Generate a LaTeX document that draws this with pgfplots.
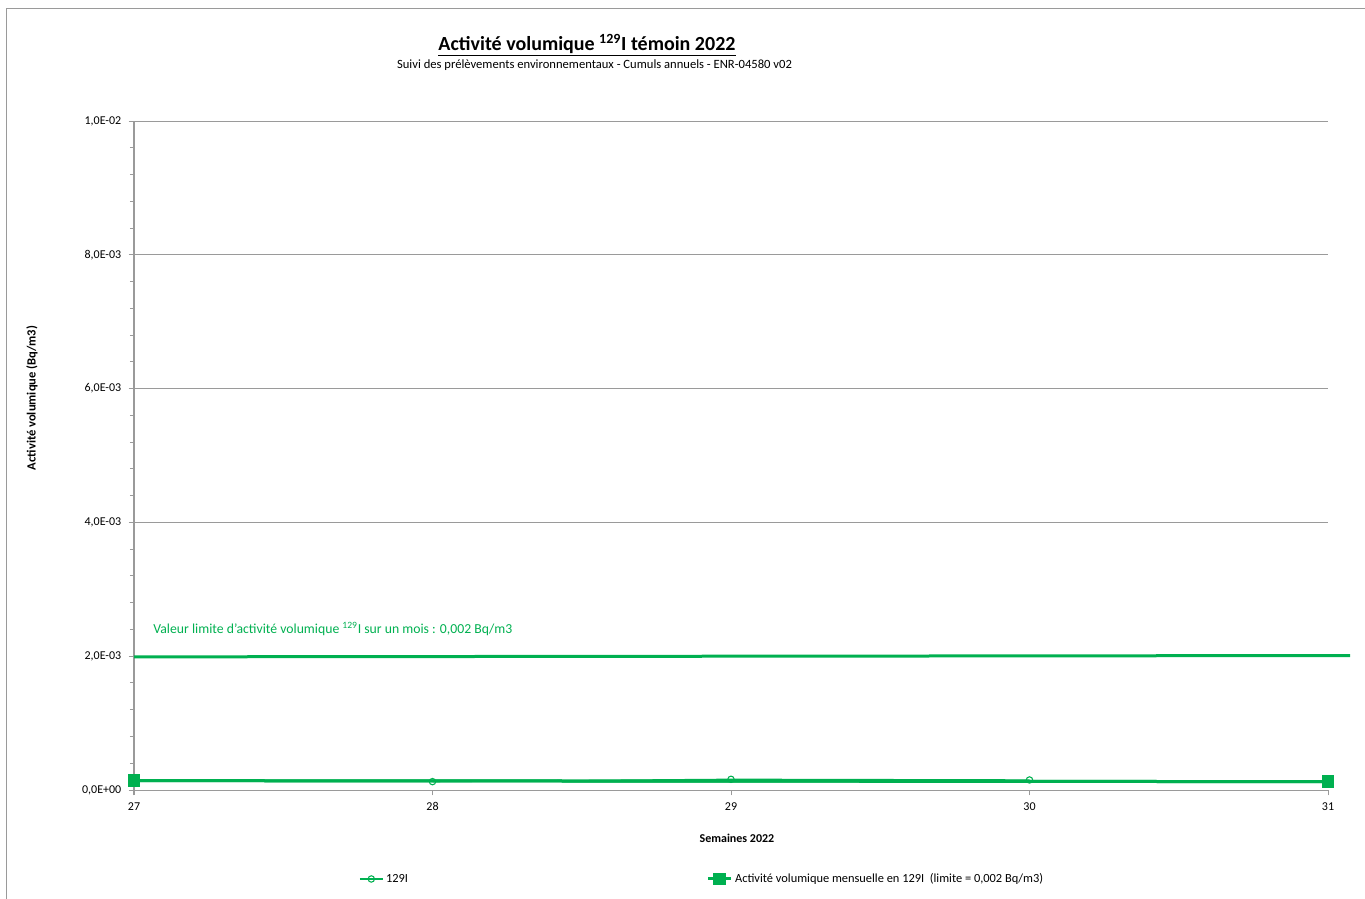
\documentclass[border=0pt]{standalone}
\usepackage{pgfplots}
\pgfplotsset{compat=1.18}
\usepackage{fontspec}
\setmainfont{Carlito}
\definecolor{xlgreen}{HTML}{00B050}
\definecolor{axgray}{HTML}{9A9A9A}
\begin{document}
\begin{tikzpicture}[x=0.75pt,y=-0.75pt]
\useasboundingbox (0,0) rectangle (1365,899);
\draw[color=axgray, line width=0.75pt] (6,9) rectangle (1385,920);
\node[font=\fontsize{15}{18}\selectfont\bfseries] at (587,45) {\underline{Activité volumique \textsuperscript{129}I témoin 2022}};
\node[font=\fontsize{9.45}{11}\selectfont] at (594.5,65) {Suivi des prélèvements environnementaux - Cumuls annuels - ENR-04580 v02};
\begin{axis}[
  at={(100.5pt,-592.5pt)}, anchor=south west,
  scale only axis, width=895.5pt, height=501.75pt,
  xmin=27, xmax=31, ymin=0, ymax=0.01,
  clip=false,
  scaled y ticks=false,
  axis lines*=left,
  axis line style={draw=axgray, line width=0.75pt},
  tick style={draw=axgray, line width=0.75pt},
  tick align=outside,
  major tick length=4pt, minor tick length=3pt,
  xtick={27,28,29,30,31},
  xticklabels={27,28,29,30,31},
  ytick={0,0.002,0.004,0.006,0.008,0.01},
  yticklabels={{0,0E+00},{2,0E-03},{4,0E-03},{6,0E-03},{8,0E-03},{1,0E-02}},
  minor y tick num=4,
  ymajorgrids,
  major grid style={draw=axgray, line width=0.75pt},
  /pgf/number format/assume math mode=true,
  ticklabel style={font=\fontsize{9}{11}\selectfont},
  xticklabel style={yshift=-2pt},
  yticklabel style={xshift=-2pt},
  xlabel={Semaines 2022},
  xlabel style={font=\fontsize{9}{11}\selectfont\bfseries, at={(rel axis cs:0.505,0)}, anchor=center, yshift=-36pt},
  ylabel={Activité volumique (Bq/m3)},
  ylabel style={font=\fontsize{9.4}{11}\selectfont\bfseries, at={(rel axis cs:-0.0854,0.586)}, anchor=center},
  legend style={at={(rel axis cs:0.1851,-0.133)}, anchor=west, draw=none, fill=none,
    font=\fontsize{9.3}{11}\selectfont, legend columns=2,
    /tikz/every even column/.append style={column sep=222pt}},
  legend cell align=left,
]
\addplot[xlgreen, line width=2.25pt, forget plot] coordinates {(27,0.00199) (31.074,0.00201)};
\addplot[xlgreen, line width=2.25pt, forget plot] coordinates {(27,0.00014) (31,0.000125)};
\addplot[xlgreen, line width=1pt, mark=o, mark size=2.4pt, mark options={line width=0.8pt, fill=white, solid}] coordinates {(28,0.000125) (29,0.00016) (30,0.00015)};
\addlegendentry{129I}
\addplot[xlgreen, line width=2.25pt, mark=square*, mark size=3.5pt, mark options={solid}] coordinates {(27,0.00014) (31,0.000125)};
\addlegendentry{Activité volumique mensuelle en 129I\ \ (limite = 0,002 Bq/m3)}
\node[anchor=west, text=xlgreen, font=\fontsize{10.3}{12}\selectfont, inner sep=0pt] at (axis cs:27.064,0.002407) {Valeur limite d'activité volumique \textsuperscript{129}I sur un mois : 0,002 Bq/m3};
\end{axis}
\end{tikzpicture}
\end{document}
